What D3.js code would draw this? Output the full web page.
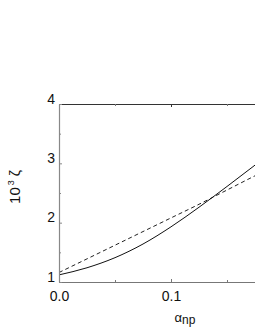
<!DOCTYPE html>
<html>
<head>
<meta charset="utf-8">
<script src="https://cdn.jsdelivr.net/npm/d3@7"></script>
<style>
  body { margin: 0; background: #fff; }
  svg { display: block; font-family: "Liberation Sans", Arial, sans-serif; }
</style>
</head>
<body>
<div id="chart"></div>
<script>
// alpha_np values
const alphaNp = [0, 0.025, 0.05, 0.075, 0.1, 0.125, 0.15, 0.175, 0.2];
// solid curve (10^3 zeta)
const solidZeta = [1.12, 1.24, 1.41, 1.64, 1.93, 2.26, 2.61, 2.97, 3.33];
// dashed curve
const dashedZeta = [1.16, 1.39, 1.62, 1.85, 2.08, 2.31, 2.55, 2.79, 3.02];

const xMajor = [0, 0.1];
const xMinor = [0.05, 0.15];
const yMajor = [1, 2, 3, 4];
const yMinor = [1.5, 2.5, 3.5];

const width = 255, height = 330;
const margin = {top: 104, right: -28, bottom: 48, left: 59};

const x = d3.scaleLinear()
  .domain([0, 0.2])
  .range([margin.left, width - margin.right]);
const y = d3.scaleLinear()
  .domain([1, 4])
  .range([height - margin.bottom, margin.top]);

const svg = d3.select("#chart").append("svg")
  .attr("width", width)
  .attr("height", height);

// curves
const line = (vals) => d3.line()
  .x((d, i) => x(alphaNp[i]))
  .y(d => y(d))
  .curve(d3.curveMonotoneX)(vals);

svg.append("path")
  .attr("d", line(dashedZeta))
  .attr("fill", "none")
  .attr("stroke", "#222")
  .attr("stroke-width", 1)
  .attr("stroke-dasharray", "4,3");

svg.append("path")
  .attr("d", line(solidZeta))
  .attr("fill", "none")
  .attr("stroke", "#111")
  .attr("stroke-width", 1);

// axes
function styleAxis(g, col) {
  g.selectAll(".domain").attr("stroke", col).attr("stroke-width", 1.2);
  g.selectAll(".tick line").attr("stroke", col);
  g.selectAll(".tick text").attr("fill", "#111").attr("font-size", 14);
}

// bottom
svg.append("g")
  .attr("transform", `translate(0,${y(1)})`)
  .call(d3.axisBottom(x).tickValues(xMajor).tickFormat(d3.format(".1f")).tickSize(-3).tickPadding(9).tickSizeOuter(0))
  .call(g => styleAxis(g, "#777"));
svg.append("g")
  .attr("transform", `translate(0,${y(1)})`)
  .call(d3.axisBottom(x).tickValues(xMinor).tickFormat("").tickSize(-2).tickSizeOuter(0))
  .call(g => g.select(".domain").remove())
  .call(g => g.selectAll(".tick line").attr("stroke", "#777"));

// top
svg.append("g")
  .attr("transform", `translate(0,${y(4)})`)
  .call(d3.axisTop(x).tickValues(xMajor).tickFormat("").tickSize(-3).tickSizeOuter(0))
  .call(g => styleAxis(g, "#333"));
svg.append("g")
  .attr("transform", `translate(0,${y(4)})`)
  .call(d3.axisTop(x).tickValues(xMinor).tickFormat("").tickSize(-2).tickSizeOuter(0))
  .call(g => g.select(".domain").remove())
  .call(g => g.selectAll(".tick line").attr("stroke", "#777"));

// left
svg.append("g")
  .attr("transform", `translate(${x(0)},0)`)
  .call(d3.axisLeft(y).tickValues(yMajor).tickFormat(d3.format("d")).tickSize(-3).tickPadding(4).tickSizeOuter(0))
  .call(g => styleAxis(g, "#888"))
  .call(g => g.selectAll(".tick text").attr("dy", "-0.05em"));
svg.append("g")
  .attr("transform", `translate(${x(0)},0)`)
  .call(d3.axisLeft(y).tickValues(yMinor).tickFormat("").tickSize(-2).tickSizeOuter(0))
  .call(g => g.select(".domain").remove())
  .call(g => g.selectAll(".tick line").attr("stroke", "#888"));

// x title
const xt = svg.append("text")
  .attr("x", 185)
  .attr("y", 322)
  .attr("text-anchor", "middle")
  .attr("fill", "#111")
  .attr("font-size", 13);
xt.append("tspan").text("α");
xt.append("tspan").attr("font-size", 12).attr("dy", 2).text("np");

// y title
const yt = svg.append("text")
  .attr("transform", "translate(20,187) rotate(-90)")
  .attr("text-anchor", "middle")
  .attr("fill", "#111")
  .attr("font-size", 15);
yt.append("tspan").text("10");
yt.append("tspan").attr("font-size", 9).attr("dy", -6).attr("dx", 2).text("3");
yt.append("tspan").attr("dy", 6).attr("dx", 4).attr("font-size", 14).text("ζ");
</script>
</body>
</html>
